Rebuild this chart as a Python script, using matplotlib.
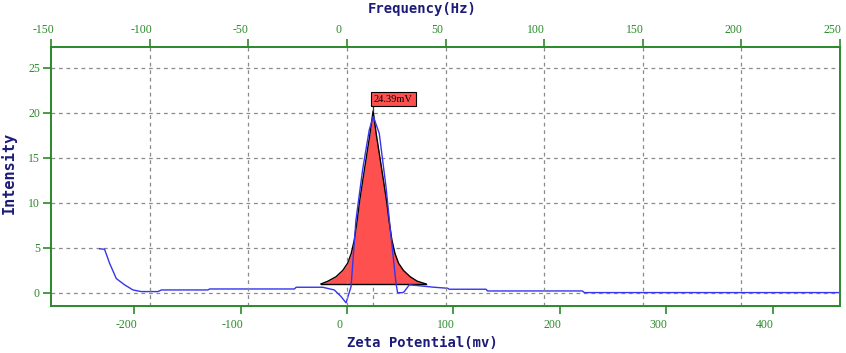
import matplotlib
matplotlib.use("Agg")
import matplotlib.pyplot as plt
import matplotlib.transforms as mtransforms

plt.rcParams["axes.unicode_minus"] = False

# ---- data ----
blue_zeta = [-232.4, -227.7, -223.0, -216.7, -208.9, -201.0, -193.2, -177.5, -174.4,
             -130.6, -129.0, -49.4, -47.8, -22.8, -11.9, -5.6, -0.9, 3.8, 8.4, 14.7,
             20.9, 24.7, 30.3, 36.6, 41.3, 46.0, 47.5, 52.2, 53.8, 58.5, 69.4, 81.9,
             94.5, 96.0, 130.6, 132.0, 221.0, 222.9, 463.0]
blue_int = [4.9, 4.85, 3.3, 1.6, 0.9, 0.33, 0.15, 0.15, 0.33,
            0.33, 0.44, 0.44, 0.63, 0.63, 0.33, -0.4, -1.1, 0.7, 8.1, 13.7,
            18.1, 19.6, 17.7, 11.8, 6.3, 1.1, 0.03, 0.03, 0.15, 0.9, 0.78, 0.63,
            0.52, 0.41, 0.41, 0.22, 0.22, 0.04, 0.04]

peak_zeta = [-24.4, -18.0, -10.3, -4.0, 0.6, 4.0, 6.9, 9.5, 11.6, 14.8, 17.8, 21.5, 24.5,
             27.5, 31.2, 34.2, 37.4, 39.5, 42.1, 45.0, 48.4, 53.0, 59.3, 66.0, 74.1]
peak_int = [1.0, 1.3, 1.8, 2.5, 3.3, 4.4, 5.9, 8.0, 10.0, 12.5, 14.8, 17.6, 20.2,
            17.6, 14.8, 12.5, 10.0, 8.0, 5.9, 4.4, 3.3, 2.5, 1.8, 1.3, 1.0]

peak_pos = 24.39
peak_label = "24.39mV"

y_ticks = [0, 5, 10, 15, 20, 25]
zeta_ticks = [-200, -100, 0, 100, 200, 300, 400]
freq_ticks = [-150, -100, -50, 0, 50, 100, 150, 200, 250]

zeta_lim = (-278, 463)
freq_lim = (-150, 250)
y_lim = (-1.45, 27.3)

GREEN = "#2a8a2a"
NAVY = "#1c1c78"
GRID = "#8a8a8a"
BLUE = "#3535ee"
RED = "#ff5050"

tick_font = ["Liberation Serif", "DejaVu Serif"]
label_font = ["DejaVu Sans Mono"]

fig = plt.figure(figsize=(8.46, 3.53), dpi=100)
ax = fig.add_axes([51 / 846, 1 - 306 / 353, (840 - 51) / 846, (306 - 47) / 353])
ax.set_xlim(*zeta_lim)
ax.set_ylim(*y_lim)

axt = ax.twiny()
axt.set_xlim(*freq_lim)

# grid
for y in y_ticks:
    ax.axhline(y, color=GRID, lw=0.9, ls=(0, (3, 3)), zorder=0)
for f in freq_ticks[1:-1]:
    axt.axvline(f, color=GRID, lw=0.9, ls=(0, (3, 3)), zorder=0)

# peak marker dashed line
ax.plot([peak_pos, peak_pos], [y_lim[0], max(peak_int)], color=GRID, lw=0.9,
        ls=(0, (3, 3)), zorder=1)

# filled peak
ax.fill_between(peak_zeta, peak_int[0], peak_int, color=RED, zorder=2, lw=0)
ax.plot(peak_zeta, peak_int, color="black", lw=1.0, zorder=3)
ax.plot([peak_zeta[0], peak_zeta[-1]], [peak_int[0], peak_int[-1]], color="black", lw=1.0, zorder=3)

# blue curve
ax.plot(blue_zeta, blue_int, color=BLUE, lw=1.0, zorder=4)

# peak label
ax.plot([peak_pos, peak_pos], [max(peak_int), 21.0], color="#333333", lw=0.9, zorder=5)
ax.text(peak_pos + 1, 21.0, peak_label, fontsize=7.5, family=["Liberation Serif"],
        color="black", ha="left", va="bottom", zorder=6,
        bbox=dict(boxstyle="square,pad=0.25", fc=RED, ec="black", lw=0.8))

# axes styling
for a in (ax, axt):
    for s in a.spines.values():
        s.set_color(GREEN)
        s.set_linewidth(1.2)

ax.set_yticks(y_ticks)
ax.set_xticks(zeta_ticks)
axt.set_xticks(freq_ticks)

ax.tick_params(axis="y", direction="out", length=6, width=1.2, color=GREEN,
               labelcolor=GREEN, labelsize=8.5, pad=2)
ax.tick_params(axis="x", direction="out", length=6, width=1.2, color=GREEN,
               labelcolor=GREEN, labelsize=8.5, pad=3)
axt.tick_params(axis="x", direction="out", length=6, width=1.2, color=GREEN,
                labelcolor=GREEN, labelsize=8.5, pad=2)

for lab in ax.get_yticklabels() + ax.get_xticklabels() + axt.get_xticklabels():
    lab.set_family(tick_font)

off = mtransforms.ScaledTranslation(-8 / 100, 0, fig.dpi_scale_trans)
for lab in ax.get_xticklabels() + axt.get_xticklabels():
    lab.set_transform(lab.get_transform() + off)

fig.text(422 / 846, 1 - 9 / 353, "Frequency(Hz)", family=label_font, weight="bold",
         fontsize=10, color=NAVY, ha="center", va="center")
fig.text(422 / 846, 1 - 343 / 353, "Zeta Potential(mv)", family=label_font, weight="bold",
         fontsize=10, color=NAVY, ha="center", va="center")
fig.text(9 / 846, 1 - 173 / 353, "Intensity", family=label_font, weight="bold",
         fontsize=11, color=NAVY, ha="center", va="center", rotation=90)

fig.savefig("out.png", dpi=100)
